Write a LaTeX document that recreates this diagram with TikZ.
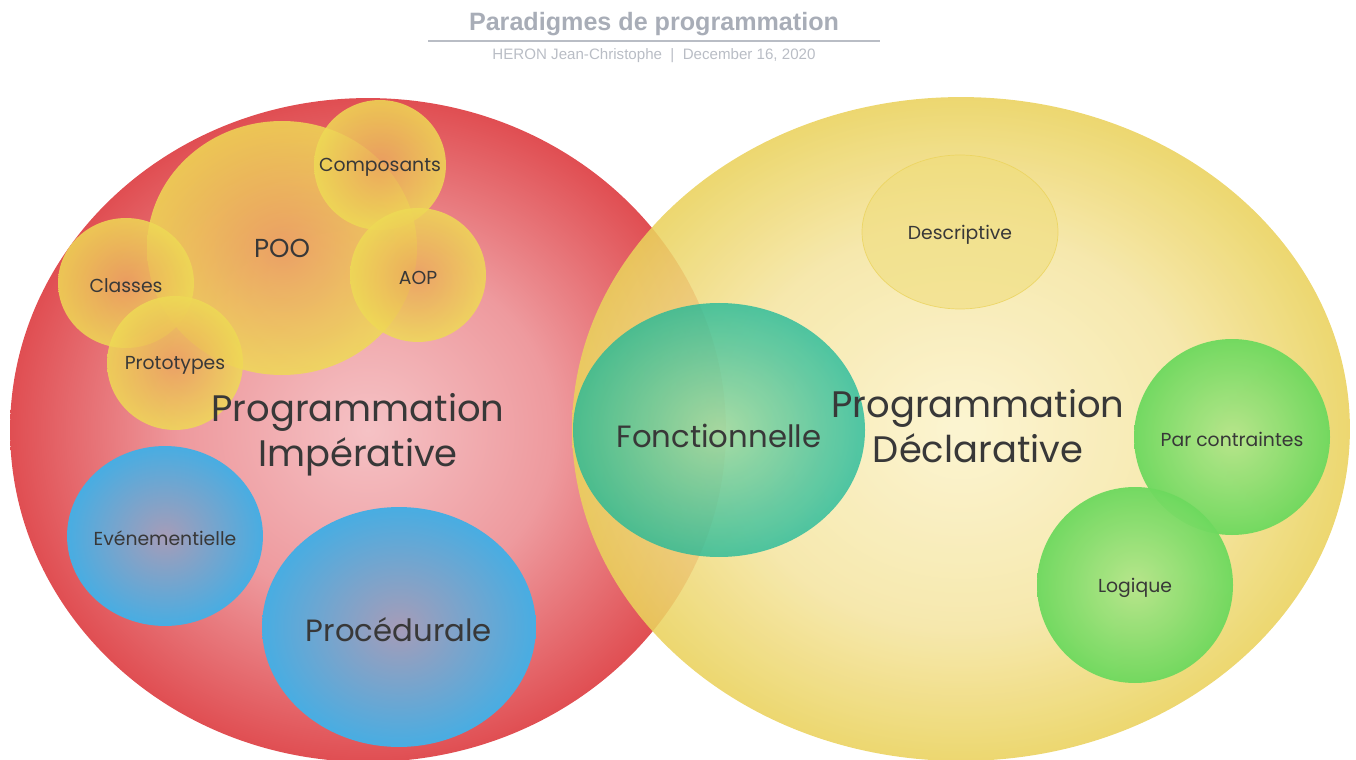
\documentclass[tikz,border=0pt]{standalone}
\usepackage{fontspec}
\setmainfont{Poppins}
\newfontfamily\headfont{Liberation Sans}
\usetikzlibrary{shapes.geometric}
\usetikzlibrary{positioning}
\definecolor{redin}{HTML}{F5C2C5}
\definecolor{redmid}{HTML}{EE9A9E}
\definecolor{redout}{HTML}{E04E52}
\definecolor{yelin}{HTML}{FBF3CB}
\definecolor{yelmid}{HTML}{F5E5A2}
\definecolor{yelout}{HTML}{EAD25C}
\definecolor{ooin}{HTML}{EBA45E}
\definecolor{ooout}{HTML}{EEDA55}
\definecolor{bluein}{HTML}{A69CB8}
\definecolor{blueout}{HTML}{48ADE2}
\definecolor{tealin}{HTML}{92D9A2}
\definecolor{tealout}{HTML}{1FB99A}
\definecolor{greenin}{HTML}{B4E68A}
\definecolor{greenout}{HTML}{6DD95E}
\definecolor{descfill}{HTML}{EFDC78}
\definecolor{descline}{HTML}{EBD35A}
\definecolor{labeltext}{HTML}{383838}
\definecolor{headgray}{HTML}{A8ADB7}
\definecolor{subgray}{HTML}{B9BDC5}
\pgfdeclareradialshading{redset}{\pgfpoint{0bp}{0bp}}{color(0bp)=(redin); color(13bp)=(redmid); color(25bp)=(redout); color(50bp)=(redout)}
\pgfdeclareradialshading{yelset}{\pgfpoint{0bp}{0bp}}{color(0bp)=(yelin); color(15bp)=(yelmid); color(25bp)=(yelout); color(50bp)=(yelout)}
\tikzstyle{setcircle}=[ellipse,inner sep=0pt]
\tikzstyle{bubble}=[ellipse,inner sep=0pt,shade]
\tikzstyle{oobubble}=[bubble,inner color=ooin,outer color=ooout,fill opacity=0.85]
\tikzstyle{bluebubble}=[bubble,inner color=bluein,outer color=blueout]
\tikzstyle{tealbubble}=[bubble,inner color=tealin,outer color=tealout,fill opacity=0.78]
\tikzstyle{greenbubble}=[bubble,inner color=greenin,outer color=greenout,fill opacity=0.95]
\tikzstyle{descbubble}=[ellipse,inner sep=0pt,fill=descfill,fill opacity=0.55,draw=descline,draw opacity=0.8]
\tikzstyle{bubbletext}=[text=labeltext,yshift=-0.05cm]
\tikzstyle{biglabel}=[align=center,text=labeltext,font=\fontsize{21}{25.5}\selectfont]

\begin{document}
\begin{tikzpicture}[x=0.02cm, y=-0.02cm]

    \useasboundingbox (0,0) rectangle (1356,760);

    % Title and author line
    \node[text=headgray, font=\headfont\bfseries\fontsize{14.3}{16}\selectfont] (title) at (654,24) {Paradigmes de programmation};
    \coordinate (ruleL) at (428,41);
    \coordinate (ruleR) at (880,41);
    \draw[subgray, line width=1pt] (ruleL) -- (ruleR);
    \node[text=subgray, font=\headfont\fontsize{8.6}{10}\selectfont] (author) at (654,56) {HERON Jean-Christophe~~|~~December 16, 2020};

    % The two big sets
    \node[setcircle, shading=redset, minimum width=14.32cm, minimum height=13.28cm] (imperset) at (368,430) {};
    \node[setcircle, shading=yelset, fill opacity=0.88, minimum width=15.56cm, minimum height=13.28cm] (declarset) at (961,429) {};

    % Object oriented family
    \node[oobubble, minimum width=270*0.02cm, minimum height=254*0.02cm, label={[text=labeltext, font=\fontsize{14.8}{16}\selectfont]center:POO}] (poo) at (282,248) {};
    \foreach \pos/\name/\label/\rx/\ry in {{(126,283)/classes/Classes/68/65}, {(175,363)/proto/Prototypes/68/67}, {(380,165)/compo/Composants/66/65}, {(418,275)/aop/AOP/68/67}}
        \node[oobubble, minimum width=\rx*0.04cm, minimum height=\ry*0.04cm, label={[bubbletext, font=\fontsize{10.7}{12}\selectfont]center:\label}] (\name) at \pos {};

    % Other imperative bubbles
    \foreach \pos/\name/\label/\rx/\ry/\fs in {{(165,536)/event/Evénementielle/98/90/10.7}, {(399,627)/proc/Procédurale/137/120/17.5}}
        \node[bluebubble, minimum width=\rx*0.04cm, minimum height=\ry*0.04cm, label={[bubbletext, font=\fontsize{\fs}{\fs}\selectfont]center:\label}] (\name) at \pos {};

    % Declarative bubbles
    \node[descbubble, minimum width=196*0.02cm, minimum height=154*0.02cm, label={[bubbletext, font=\fontsize{10.7}{12}\selectfont]center:Descriptive}] (descr) at (960,232) {};
    \foreach \pos/\name/\label in {{(1232,437)/contr/Par contraintes}, {(1135,585)/logi/Logique}}
        \node[greenbubble, minimum width=196*0.02cm, minimum height=196*0.02cm, label={[bubbletext, font=\fontsize{10.7}{12}\selectfont]center:\label}] (\name) at \pos {};

    % Shared between both
    \node[tealbubble, minimum width=292*0.02cm, minimum height=254*0.02cm, label={[bubbletext, yshift=-0.06cm, font=\fontsize{17.5}{18}\selectfont]center:Fonctionnelle}] (fonc) at (719,430) {};

    % Set names
    \node[biglabel] (imper) at (358,435) {Programmation\\Impérative};
    \node[biglabel] (declar) at (978,426) {Programmation\\Déclarative};

\end{tikzpicture}
\end{document}
